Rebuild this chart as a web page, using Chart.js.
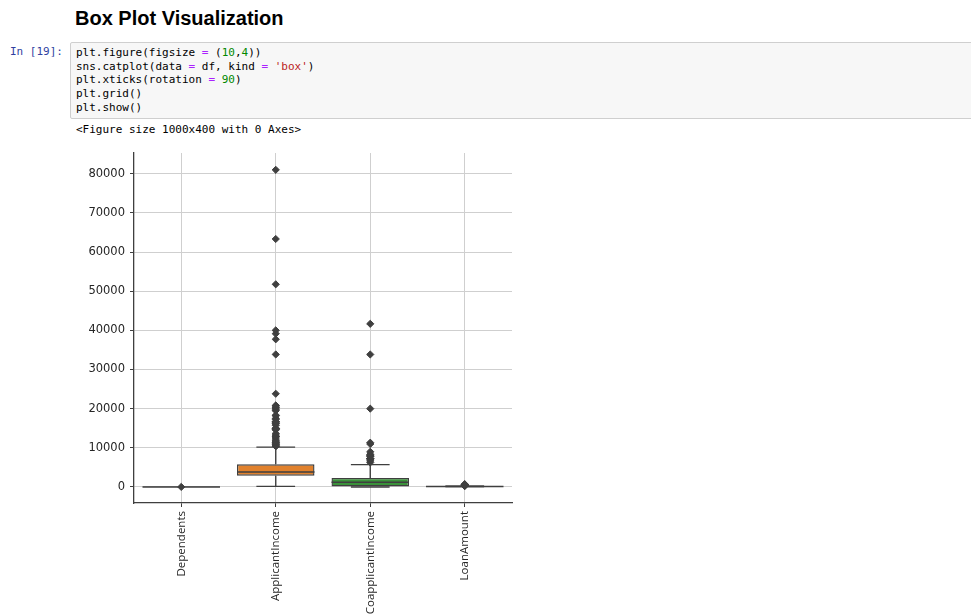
<!doctype html>
<html lang="en">
  <head>
    <meta charset="utf-8">
    <title>Box Plot Visualization</title>
    <style>
      * { margin: 0; padding: 0; }
      body { width: 971px; height: 615px; background: #fff; position: relative; overflow: hidden; }
      h2 {
        position: absolute; left: 75px; top: 7px;
        font-family: 'Liberation Sans', Arial, sans-serif;
        font-size: 20px; font-weight: bold; color: #000;
      }
      .prompt {
        position: absolute; left: 10px; top: 45px;
        font-family: 'DejaVu Sans Mono', monospace; font-size: 11px;
        color: #303f9f;
      }
      .code {
        position: absolute; left: 70px; top: 42px; width: 920px; height: 75px;
        background: #f7f7f7; border: 1px solid #cfcfcf; border-radius: 2px;
      }
      .code pre {
        padding: 3px 0 0 5px;
        font-family: 'DejaVu Sans Mono', monospace; font-size: 11px; line-height: 13.7px;
        color: #000;
      }
      .op { color: #aa22ff; }
      .num { color: #008800; }
      .str { color: #ba2121; }
      .out {
        position: absolute; left: 76px; top: 123px;
        font-family: 'DejaVu Sans Mono', monospace; font-size: 11px; color: #000;
      }
      .chartBox { position: absolute; left: 60px; top: 140px; width: 460px; height: 475px; }
    </style>
  </head>
  <body>
    <h2>Box Plot Visualization</h2>
    <div class="prompt">In [19]:</div>
    <div class="code"><pre>plt.figure(figsize <span class="op">=</span> (<span class="num">10</span>,<span class="num">4</span>))
sns.catplot(data <span class="op">=</span> df, kind <span class="op">=</span> <span class="str">'box'</span>)
plt.xticks(rotation <span class="op">=</span> <span class="num">90</span>)
plt.grid()
plt.show()</pre></div>
    <div class="out">&lt;Figure size 1000x400 with 0 Axes&gt;</div>
    <div class="chartBox"><canvas id="myChart" width="460" height="475"></canvas></div>

    <script src="https://cdn.jsdelivr.net/npm/chart.js"></script>
    <script>
    // categories and box statistics
    const categories = ['Dependents', 'ApplicantIncome', 'CoapplicantIncome', 'LoanAmount'];
    const q1 = [0, 2877, 0, 100];
    const median = [0, 3812, 1188, 128];
    const q3 = [1, 5795, 2297, 168];
    const whiskerLow = [0, 150, 0, 9];
    const whiskerHigh = [2, 10171, 5701, 270];

    // outliers (fliers) per category
    const fliersDependents = [3];
    const fliersApplicant = [10408, 10416, 10513, 10750, 10833, 11146, 11250, 11417, 11500, 11757,
      12000, 12500, 12841, 12876, 13262, 13650, 14583, 14683, 14866, 14880, 14999, 15000, 15759,
      16120, 16250, 16525, 16667, 16692, 17263, 17500, 18165, 18333, 19484, 19730, 20166, 20233,
      20667, 20833, 23803, 33846, 37719, 39147, 39999, 51763, 63337, 81000];
    const fliersCoapplicant = [6250, 6666, 7101, 7166, 7210, 7250, 7750, 7873, 8106, 8333, 8980,
      10968, 11300, 20000, 33837, 41667];
    const fliersLoan = [275, 280, 300, 311, 320, 349, 380, 405, 436, 480, 496, 500, 570, 600, 650, 700];

    const yTicks = [0, 10000, 20000, 30000, 40000, 50000, 60000, 70000, 80000];

    const boxColors = ['#3274a1', '#e1812c', '#3a923a', '#c03d3e'];
    const lineGray = '#3f3f3f';

    const flierData = [];
    [fliersDependents, fliersApplicant, fliersCoapplicant, fliersLoan].forEach((arr, i) => {
      arr.forEach(v => flierData.push({ x: categories[i], y: v }));
    });

    // whiskers, caps and median lines
    const boxLines = {
      id: 'boxLines',
      afterDatasetsDraw(chart) {
        const { ctx, scales: { x, y } } = chart;
        const meta = chart.getDatasetMeta(0);
        ctx.save();
        ctx.strokeStyle = lineGray;
        ctx.lineWidth = 1.4;
        categories.forEach((c, i) => {
          const cx = x.getPixelForValue(i);
          const w = meta.data[i].width;
          const yq1 = y.getPixelForValue(q1[i]);
          const yq3 = y.getPixelForValue(q3[i]);
          const ylo = y.getPixelForValue(whiskerLow[i]);
          const yhi = y.getPixelForValue(whiskerHigh[i]);
          const ym = y.getPixelForValue(median[i]);
          ctx.beginPath();
          ctx.moveTo(cx, yq3); ctx.lineTo(cx, yhi);
          ctx.moveTo(cx, yq1); ctx.lineTo(cx, ylo);
          ctx.moveTo(cx - w / 4, yhi); ctx.lineTo(cx + w / 4, yhi);
          ctx.moveTo(cx - w / 4, ylo); ctx.lineTo(cx + w / 4, ylo);
          ctx.moveTo(cx - w / 2, ym); ctx.lineTo(cx + w / 2, ym);
          ctx.stroke();
        });
        ctx.restore();
      }
    };

    const data = {
      labels: categories,
      datasets: [{
        type: 'bar',
        data: categories.map((c, i) => [q1[i], q3[i]]),
        backgroundColor: boxColors,
        borderColor: lineGray,
        borderWidth: 1.4,
        borderSkipped: false,
        barPercentage: 0.82,
        categoryPercentage: 1,
        order: 2
      }, {
        type: 'scatter',
        data: flierData,
        pointStyle: 'rectRot',
        radius: 3.6,
        backgroundColor: lineGray,
        borderColor: lineGray,
        borderWidth: 1,
        order: 1
      }]
    };

    const config = {
      type: 'bar',
      data,
      options: {
        responsive: false,
        animation: false,
        layout: { padding: { top: 13, right: 8, left: 0, bottom: 0 } },
        scales: {
          x: {
            type: 'category',
            offset: true,
            grid: { offset: false, color: '#cfcfcf', lineWidth: 1, tickColor: lineGray, tickLength: 4 },
            border: { display: true, color: lineGray, width: 1.3 },
            ticks: {
              minRotation: 90, maxRotation: 90, padding: 4, color: '#262626',
              font: { family: 'Open Sans', size: 11.5 }
            },
            afterFit(scale) { scale.height = 112; }
          },
          y: {
            type: 'linear',
            min: -4100,
            max: 85300,
            grid: { color: '#cfcfcf', lineWidth: 1, tickColor: lineGray, tickLength: 4 },
            border: { display: true, color: lineGray, width: 1.3 },
            ticks: {
              padding: 5, color: '#262626', autoSkip: false,
              font: { family: 'DejaVu Sans', size: 11.5 },
              callback: v => String(v)
            },
            afterBuildTicks(scale) { scale.ticks = yTicks.map(v => ({ value: v })); },
            afterFit(scale) { scale.width = 74; }
          }
        },
        plugins: {
          legend: { display: false },
          tooltip: { enabled: false }
        }
      },
      plugins: [boxLines]
    };

    const myChart = new Chart(document.getElementById('myChart'), config);
    </script>
  </body>
</html>
